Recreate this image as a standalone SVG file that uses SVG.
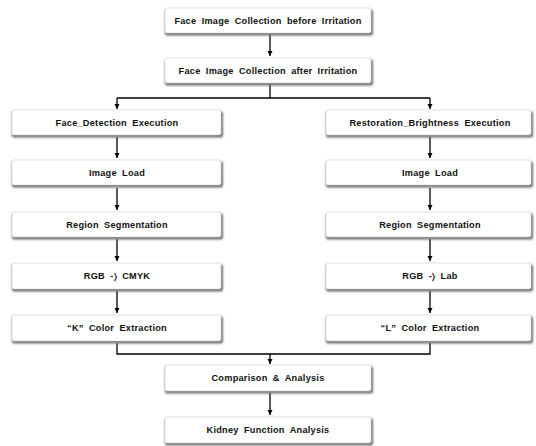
<svg xmlns="http://www.w3.org/2000/svg" width="536" height="446" viewBox="0 0 536 446">
<defs>
<style>
.sh{fill:#707070;filter:url(#blur)}
.bx{fill:#ffffff;stroke:#d0d0d0;stroke-width:0.6}
.t{font-family:"Liberation Sans",Arial,sans-serif;font-weight:bold;font-size:9.2px;fill:#111;text-anchor:middle;word-spacing:2.5px;letter-spacing:0.25px}
.ln{fill:none;stroke:#000;stroke-width:1.3}
</style>
<filter id="blur" x="-10%" y="-30%" width="120%" height="160%"><feGaussianBlur stdDeviation="1"/></filter>
<marker id="ah" markerWidth="6" markerHeight="6" refX="5" refY="3" orient="auto" markerUnits="userSpaceOnUse"><path d="M0,0.5 L5,3 L0,5.5 Z" fill="#000"/></marker>
</defs>
<rect width="536" height="446" fill="#fff"/>
<g id="connectors">
<path class="ln" d="M270,34 V56" marker-end="url(#ah)"/>
<path class="ln" d="M270,84 V98"/>
<path class="ln" d="M117,98 H430"/>
<path class="ln" d="M117,98 V109" marker-end="url(#ah)"/>
<path class="ln" d="M430,98 V109" marker-end="url(#ah)"/>
<path class="ln" d="M117,137 V158" marker-end="url(#ah)"/>
<path class="ln" d="M117,188 V210" marker-end="url(#ah)"/>
<path class="ln" d="M117,239 V261" marker-end="url(#ah)"/>
<path class="ln" d="M117,291 V313" marker-end="url(#ah)"/>
<path class="ln" d="M430,137 V158" marker-end="url(#ah)"/>
<path class="ln" d="M430,188 V210" marker-end="url(#ah)"/>
<path class="ln" d="M430,239 V261" marker-end="url(#ah)"/>
<path class="ln" d="M430,291 V313" marker-end="url(#ah)"/>
<path class="ln" d="M117,343 V354 H430 V343"/>
<path class="ln" d="M270,354 V364" marker-end="url(#ah)"/>
<path class="ln" d="M270,393 V415" marker-end="url(#ah)"/>
</g>
<g id="n1"><rect class="sh" x="165" y="9.5" width="208" height="26" rx="2"/><rect class="bx" x="165" y="8" width="206" height="25" rx="2"/><text class="t" x="268" y="23.8">Face Image Collection before Irritation</text></g>
<g id="n2"><rect class="sh" x="165" y="59.5" width="208" height="26" rx="2"/><rect class="bx" x="165" y="58" width="206" height="25" rx="2"/><text class="t" x="268" y="73.8">Face Image Collection after Irritation</text></g>
<g id="l1"><rect class="sh" x="12" y="111.5" width="211" height="26" rx="2"/><rect class="bx" x="12" y="110" width="209" height="25" rx="2"/><text class="t" x="117" y="125.8">Face_Detection Execution</text></g>
<g id="l2"><rect class="sh" x="12" y="161.5" width="211" height="26" rx="2"/><rect class="bx" x="12" y="160" width="209" height="25" rx="2"/><text class="t" x="117" y="175.8">Image Load</text></g>
<g id="l3"><rect class="sh" x="12" y="213.5" width="211" height="26" rx="2"/><rect class="bx" x="12" y="212" width="209" height="25" rx="2"/><text class="t" x="117" y="227.8">Region Segmentation</text></g>
<g id="l4"><rect class="sh" x="12" y="264.5" width="211" height="27" rx="2"/><rect class="bx" x="12" y="263" width="209" height="26" rx="2"/><text class="t" x="117" y="279.3">RGB -&#x232A; CMYK</text></g>
<g id="l5"><rect class="sh" x="12" y="316.5" width="211" height="27" rx="2"/><rect class="bx" x="12" y="315" width="209" height="26" rx="2"/><text class="t" x="117" y="331.3">“K”  Color Extraction</text></g>
<g id="r1"><rect class="sh" x="326" y="111.5" width="207" height="26" rx="2"/><rect class="bx" x="326" y="110" width="205" height="25" rx="2"/><text class="t" x="430" y="125.8">Restoration_Brightness Execution</text></g>
<g id="r2"><rect class="sh" x="326" y="161.5" width="207" height="26" rx="2"/><rect class="bx" x="326" y="160" width="205" height="25" rx="2"/><text class="t" x="430" y="175.8">Image Load</text></g>
<g id="r3"><rect class="sh" x="326" y="213.5" width="207" height="26" rx="2"/><rect class="bx" x="326" y="212" width="205" height="25" rx="2"/><text class="t" x="430" y="227.8">Region Segmentation</text></g>
<g id="r4"><rect class="sh" x="326" y="264.5" width="207" height="27" rx="2"/><rect class="bx" x="326" y="263" width="205" height="26" rx="2"/><text class="t" x="430" y="279.3">RGB -&#x232A; Lab</text></g>
<g id="r5"><rect class="sh" x="326" y="316.5" width="207" height="27" rx="2"/><rect class="bx" x="326" y="315" width="205" height="26" rx="2"/><text class="t" x="430" y="331.3">“L”  Color Extraction</text></g>
<g id="c1"><rect class="sh" x="165" y="366.5" width="208" height="27" rx="2"/><rect class="bx" x="165" y="365" width="206" height="26" rx="2"/><text class="t" x="268" y="381.3">Comparison &amp; Analysis</text></g>
<g id="c2"><rect class="sh" x="165" y="418.5" width="208" height="27" rx="2"/><rect class="bx" x="165" y="417" width="206" height="26" rx="2"/><text class="t" x="268" y="433.3">Kidney Function Analysis</text></g>
</svg>
